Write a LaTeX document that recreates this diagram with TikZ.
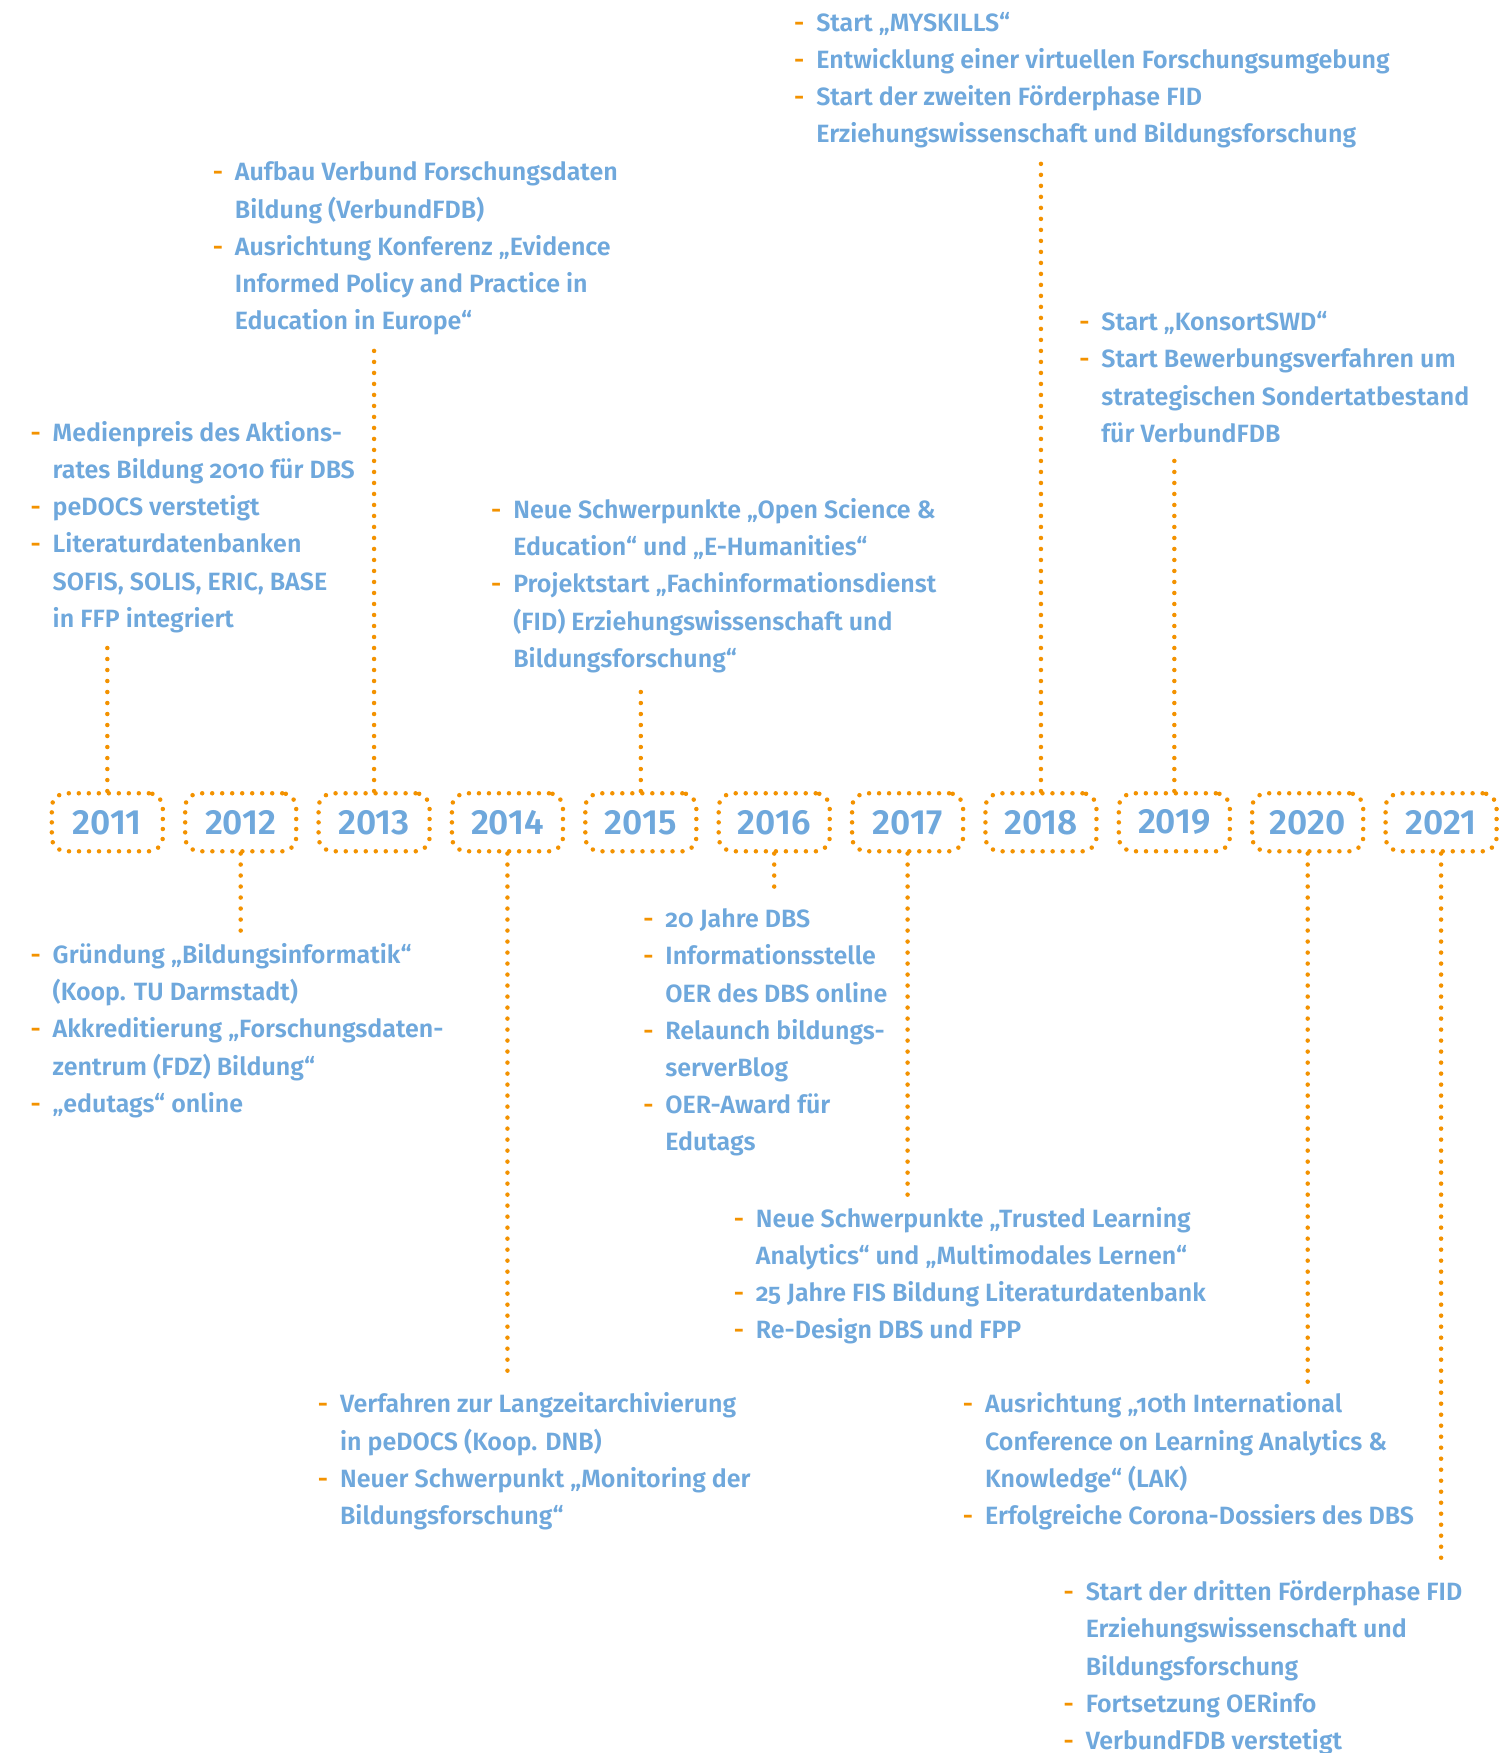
\documentclass[tikz,border=0pt]{standalone}
\usepackage{fontspec}
\setmainfont{Fira Sans SemiBold}[Numbers=OldStyle]
\newfontfamily\yearfont{Fira Sans SemiBold}[Numbers=Lining]
\definecolor{dblue}{RGB}{111,168,220}
\definecolor{dorange}{RGB}{243,146,0}
\newcommand\itm{\strut\makebox[0pt][r]{\textcolor{dorange}{-}\hspace{12pt}}}
\tikzset{
  blk/.style={anchor=north west,inner sep=0pt,align=left,text=dblue,
    font=\fontsize{25}{37.2}\selectfont},
  yearbox/.style={draw=dorange,line width=4.5pt,line cap=round,
    dash pattern=on 0pt off 10pt,rounded corners=14pt,
    minimum width=111pt,minimum height=58pt,inner sep=0pt,
    text=dblue,font=\yearfont\fontsize{35}{40}\selectfont},
  conn/.style={draw=dorange,line width=4.5pt,line cap=round,
    dash pattern=on 0pt off 11pt}
}
\begin{document}
\begin{tikzpicture}[x=1.1177pt,y=-1.1177pt]
\useasboundingbox (0,0) rectangle (1342,1568);
% year boxes
\foreach \yr [count=\i from 0] in {2011,...,2021}{
  \node[yearbox] (b\yr) at ({96+119.3*\i},735.5) {\yr};
}
% text blocks
\node[blk] (t2018) at (730,20-15.7) {\itm Start „MYSKILLS“\\
\itm Entwicklung einer virtuellen Forschungsumgebung\\
\itm Start der zweiten Förderphase FID\\
Erziehungswissenschaft und Bildungsforschung};
\node[blk] (t2013) at (210,154-15.7) {\itm Aufbau Verbund Forschungsdaten\\
Bildung (VerbundFDB)\\
\itm Ausrichtung Konferenz „Evidence\\
Informed Policy and Practice in\\
Education in Europe“};
\node[blk] (t2019) at (985,288-15.7) {\itm Start „KonsortSWD“\\
\itm Start Bewerbungsverfahren um\\
strategischen Sondertatbestand\\
für VerbundFDB};
\node[blk] (t2011) at (47,387-15.7) {\itm Medienpreis des Aktions-\\
rates Bildung 2010 für DBS\\
\itm peDOCS verstetigt\\
\itm Literaturdatenbanken\\
SOFIS, SOLIS, ERIC, BASE\\
in FFP integriert};
\node[blk] (t2015) at (459,456-15.7) {\itm Neue Schwerpunkte „Open Science \&\\
Education“ und „E-Humanities“\\
\itm Projektstart „Fachinformationsdienst\\
(FID) Erziehungswissenschaft und\\
Bildungsforschung“};
\node[blk] (t2012) at (47,854-15.7) {\itm Gründung „Bildungsinformatik“\\
(Koop. TU Darmstadt)\\
\itm Akkreditierung „Forschungsdaten-\\
zentrum (FDZ) Bildung“\\
\itm „edutags“ online};
\node[blk] (t2016) at (595,822-15.7) {\itm 20 Jahre DBS\\
\itm Informationsstelle\\
OER des DBS online\\
\itm Relaunch bildungs-\\
serverBlog\\
\itm OER-Award für\\
Edutags};
\node[blk] (t2017) at (676,1090-15.7) {\itm Neue Schwerpunkte „Trusted Learning\\
Analytics“ und „Multimodales Lernen“\\
\itm 25 Jahre FIS Bildung Literaturdatenbank\\
\itm Re-Design DBS und FPP};
\node[blk] (t2014) at (304,1256-15.7) {\itm Verfahren zur Langzeitarchivierung\\
in peDOCS (Koop. DNB)\\
\itm Neuer Schwerpunkt „Monitoring der\\
Bildungsforschung“};
\node[blk] (t2020) at (881,1256-15.7) {\itm Ausrichtung „10th International\\
Conference on Learning Analytics \&\\
Knowledge“ (LAK)\\
\itm Erfolgreiche Corona-Dossiers des DBS};
\node[blk] (t2021) at (971,1424-15.7) {\itm Start der dritten Förderphase FID\\
Erziehungswissenschaft und\\
Bildungsforschung\\
\itm Fortsetzung OERinfo\\
\itm VerbundFDB verstetigt};
% connector ends
\coordinate (c2011) at (96,578);
\coordinate (c2013) at (334.6,313);
\coordinate (c2015) at (573.2,612);
\coordinate (c2018) at (931.1,143);
\coordinate (c2019) at (1050.4,408);
\coordinate (c2012) at (215.3,833);
\coordinate (c2014) at (453.9,1235);
\coordinate (c2016) at (692.5,802);
\coordinate (c2017) at (811.8,1072);
\coordinate (c2020) at (1169.7,1240);
\coordinate (c2021) at (1289,1403);
\foreach \yr in {2011,2013,2015,2018,2019}{
  \draw[conn] (b\yr.north) -- (c\yr);
}
\foreach \yr in {2012,2014,2016,2017,2020,2021}{
  \draw[conn] (b\yr.south) -- (c\yr);
}
\end{tikzpicture}
\end{document}
